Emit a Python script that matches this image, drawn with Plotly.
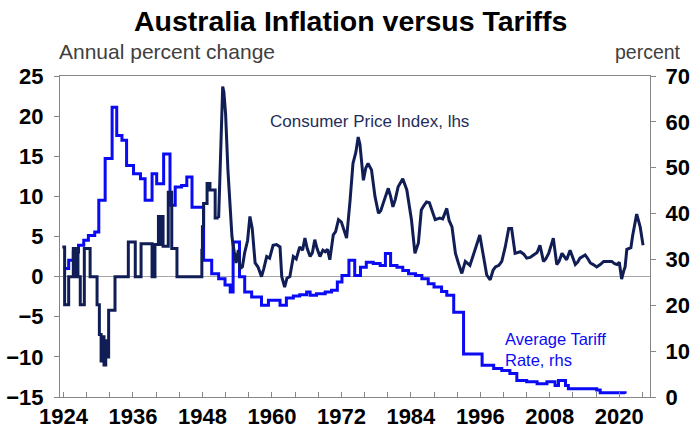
import plotly.graph_objects as go

# ---------------- data ----------------
# Average tariff rate, percent (rhs) – step changes (start year, value)
tariff_year = [1924.0, 1924.9, 1925.7, 1926.6, 1927.5, 1928.3, 1929.4, 1930.1, 1931.2, 1932.4,
               1933.2, 1934.1, 1934.9, 1936.1, 1937.3, 1938.1, 1939.3, 1940.1, 1941.3, 1942.4,
               1943.3, 1944.4, 1945.3, 1946.2, 1948.2, 1949.6, 1950.8, 1951.9, 1952.8, 1953.3,
               1954.4, 1955.3, 1956.5, 1958.2, 1959.4, 1961.4, 1962.5, 1963.7, 1964.8, 1966.0,
               1966.6, 1967.7, 1969.2, 1970.3, 1971.3, 1972.1, 1973.3, 1974.3, 1975.3, 1976.3,
               1977.5, 1978.7, 1979.6, 1980.5, 1981.6, 1982.6, 1983.6, 1984.8, 1985.9, 1987.0,
               1988.0, 1989.3, 1990.2, 1991.4, 1993.1, 1996.3, 1998.3, 1999.7, 2001.1, 2002.3,
               2004.0, 2005.8, 2007.5, 2008.9, 2009.5, 2010.7, 2011.2, 2016.1, 2016.7, 2021.0]
tariff_rate = [28.0, 29.8, 31.6, 33.1, 34.2, 35.2, 36.0, 42.9, 52.0, 63.2,
               57.0, 56.0, 50.5, 48.7, 47.6, 42.9, 48.7, 46.5, 53.0, 41.8,
               45.8, 46.1, 48.0, 41.4, 29.8, 26.9, 25.8, 24.4, 22.9, 33.8,
               26.2, 22.9, 21.8, 20.0, 21.1, 20.0, 21.6, 22.0, 22.3, 22.9,
               22.2, 22.5, 22.9, 23.3, 25.1, 26.5, 29.8, 26.5, 28.3, 29.4,
               29.1, 28.7, 31.3, 28.7, 28.3, 27.6, 26.9, 26.5, 25.8, 24.7,
               24.0, 23.0, 22.2, 18.5, 9.4, 6.9, 6.2, 5.8, 5.1, 3.6,
               3.3, 2.9, 3.3, 2.5, 3.6, 2.5, 1.8, 1.5, 0.9, 0.7]

# Consumer Price Index, annual percent change (lhs) – early annual steps
cpi_early_year = [1923.8, 1924.2, 1924.9, 1925.7, 1926.0, 1926.1, 1926.5, 1926.9, 1927.6, 1928.6,
                  1929.8, 1930.2, 1930.5, 1930.8, 1931.0, 1931.3, 1931.5, 1931.8, 1932.9, 1935.2,
                  1936.4, 1937.4, 1939.3, 1939.8, 1940.4, 1940.6, 1940.8, 1941.2, 1942.1, 1942.7,
                  1943.6, 1947.9, 1948.0, 1948.2, 1948.8, 1949.3, 1950.2, 1950.8]
cpi_early_value = [3.7, -3.5, 0.0, 3.5, 0.0, 3.5, 0.0, -3.5, 3.5, 0.0,
                   -3.5, -7.2, -10.5, -7.5, -11.0, -8.0, -10.0, -4.2, 0.0, 4.3,
                   0.0, 4.1, 0.0, 4.0, 7.5, 4.0, 7.5, 3.8, 10.5, 3.5,
                   0.0, 3.3, 6.2, 9.1, 11.6, 10.8, 7.3, 7.3]

# Consumer Price Index – later (quarterly-ish) readings
cpi_year = [1950.8, 1951.0, 1951.3, 1951.5, 1951.7, 1952.0, 1952.4, 1952.8, 1953.1, 1953.5,
            1953.8, 1954.2, 1954.5, 1954.9, 1955.3, 1955.8, 1956.2, 1956.6, 1957.1, 1957.6,
            1958.2, 1958.6, 1959.1, 1959.6, 1960.2, 1960.8, 1961.4, 1961.7, 1962.2, 1962.6,
            1963.1, 1963.7, 1964.2, 1964.8, 1965.3, 1965.7, 1966.1, 1966.6, 1967.0, 1967.4,
            1967.8, 1968.3, 1968.8, 1969.2, 1969.6, 1970.0, 1970.6, 1971.0, 1971.5, 1972.0,
            1972.6, 1972.9, 1973.5, 1974.0, 1974.5, 1974.9, 1975.2, 1975.5, 1975.8, 1976.2,
            1976.6, 1977.2, 1977.8, 1978.4, 1978.8, 1979.2, 1980.1, 1980.5, 1980.9, 1981.3,
            1981.8, 1982.6, 1983.3, 1984.1, 1984.7, 1985.3, 1985.8, 1986.2, 1986.7, 1987.2,
            1987.6, 1988.2, 1989.0, 1989.5, 1990.2, 1990.6, 1991.1, 1991.7, 1992.2, 1992.8,
            1993.4, 1994.2, 1994.7, 1995.1, 1995.6, 1995.9, 1996.5, 1997.1, 1997.7, 1998.2,
            1998.6, 1999.2, 1999.7, 2000.3, 2000.9, 2001.4, 2002.0, 2002.9, 2003.5, 2004.0,
            2004.6, 2005.2, 2005.8, 2006.3, 2006.9, 2007.3, 2007.8, 2008.6, 2009.2, 2009.6,
            2010.1, 2010.9, 2011.5, 2012.4, 2012.8, 2013.2, 2014.1, 2014.6, 2015.0, 2015.5,
            2016.1, 2016.7, 2017.3, 2018.0, 2018.7, 2019.2, 2019.6, 2020.0, 2020.4, 2020.8,
            2021.0, 2021.3, 2021.6, 2022.0, 2022.3, 2022.6, 2023.0, 2023.3, 2023.6, 2024.1]
cpi_value = [7.3, 12.5, 18.0, 23.7, 23.0, 20.3, 13.3, 8.0, 5.0, 3.0,
             1.7, 3.3, 1.0, 1.2, 3.0, 4.5, 7.5, 6.0, 1.7, 1.2,
             0.0, 1.0, 2.5, 2.3, 3.9, 4.0, 3.7, 0.0, -1.3, -0.2,
             0.0, 2.5, 2.2, 3.7, 3.3, 4.8, 3.5, 2.5, 3.0, 4.6,
             3.5, 2.5, 3.3, 3.1, 3.4, 2.1, 5.2, 5.6, 7.1, 6.8,
             5.4, 4.8, 9.5, 14.1, 15.5, 17.4, 16.5, 14.5, 12.0, 13.5,
             14.1, 13.3, 10.0, 7.9, 8.2, 9.1, 11.0, 10.0, 8.7, 9.6,
             11.2, 12.2, 10.8, 7.1, 2.9, 4.2, 8.3, 8.8, 9.3, 9.2,
             8.3, 7.1, 7.3, 7.2, 8.5, 7.0, 6.2, 2.9, 1.7, 0.4,
             1.9, 1.4, 2.5, 3.3, 4.5, 5.2, 2.5, 0.2, -0.4, 0.8,
             1.2, 1.4, 1.9, 3.7, 6.0, 6.0, 2.9, 3.1, 2.8, 2.3,
             2.4, 2.7, 3.0, 3.9, 1.9, 2.2, 2.9, 4.8, 1.5, 1.9,
             2.9, 2.1, 3.3, 1.5, 1.8, 2.3, 2.7, 2.2, 1.7, 1.5,
             1.2, 1.5, 1.9, 1.9, 1.9, 1.6, 1.5, 1.8, -0.3, 0.8,
             1.2, 3.4, 3.5, 3.6, 5.1, 6.1, 7.8, 7.0, 6.2, 3.9]

x_tick_years = list(range(1924, 2025, 4))
x_label_years = [1924, 1936, 1948, 1960, 1972, 1984, 1996, 2008, 2020]
lhs_ticks = [-15, -10, -5, 0, 5, 10, 15, 20, 25]
rhs_ticks = [0, 10, 20, 30, 40, 50, 60, 70]

# ---------------- styling ----------------
CPI_COLOR = "#111E55"
TARIFF_COLOR = "#0A0AF5"
AXIS_COLOR = "#868686"
FONT = "Liberation Sans, Arial, sans-serif"
tickfont = dict(family=FONT, size=22, color="black", weight="bold")

fig = go.Figure()

# Tariff (rhs) on primary y (drawn underneath)
fig.add_trace(go.Scatter(x=tariff_year, y=tariff_rate, mode="lines", line_shape="hv",
                         line=dict(color=TARIFF_COLOR, width=3), yaxis="y",
                         showlegend=False, hoverinfo="skip"))
# CPI (lhs) on overlay axis (drawn on top)
fig.add_trace(go.Scatter(x=cpi_early_year, y=cpi_early_value, mode="lines", line_shape="hv",
                         line=dict(color=CPI_COLOR, width=3), yaxis="y2",
                         showlegend=False, hoverinfo="skip"))
fig.add_trace(go.Scatter(x=cpi_year, y=cpi_value, mode="lines",
                         line=dict(color=CPI_COLOR, width=3), yaxis="y2",
                         showlegend=False, hoverinfo="skip"))

fig.update_layout(
    width=697, height=428,
    margin=dict(l=60, r=47, t=76, b=31),
    paper_bgcolor="white", plot_bgcolor="white",
    showlegend=False,
    xaxis=dict(range=[1923.4, 2025.3], tickmode="array", tickvals=x_tick_years,
               ticktext=[str(y) if y in x_label_years else "" for y in x_tick_years],
               ticks="inside", ticklen=5, tickcolor=AXIS_COLOR, tickwidth=1,
               showline=True, linecolor=AXIS_COLOR, linewidth=1, mirror=True,
               showgrid=False, zeroline=False, tickfont=tickfont, ticklabelstandoff=0,
               automargin=False),
    yaxis=dict(range=[0, 70], tickvals=rhs_ticks, side="right",
               ticks="outside", ticklen=5, tickcolor=AXIS_COLOR,
               showline=True, linecolor=AXIS_COLOR, linewidth=1,
               showgrid=False, zeroline=False, tickfont=tickfont, ticklabelstandoff=5,
               automargin=False),
    yaxis2=dict(range=[-15, 25], tickvals=lhs_ticks, side="left", overlaying="y",
                ticks="outside", ticklen=5, tickcolor=AXIS_COLOR,
                showline=True, linecolor=AXIS_COLOR, linewidth=1,
                showgrid=False, zeroline=True, zerolinecolor="#A6A6A6", zerolinewidth=1,
                tickfont=tickfont, ticklabelstandoff=6, automargin=False),
)

fig.add_annotation(text="Australia Inflation versus Tariffs", xref="paper", yref="paper",
                   x=0.4932, y=1.1713, xanchor="center", yanchor="middle", showarrow=False,
                   font=dict(family=FONT, size=28.5, color="black", weight="bold"))
fig.add_annotation(text="Annual percent change", xref="paper", yref="paper",
                   x=-0.005, y=1.0748, xanchor="left", yanchor="middle", showarrow=False,
                   font=dict(family=FONT, size=21, color="#404040"))
fig.add_annotation(text="percent", xref="paper", yref="paper",
                   x=1.056, y=1.0748, xanchor="right", yanchor="middle", showarrow=False,
                   font=dict(family=FONT, size=19.5, color="#404040"))
fig.add_annotation(text="Consumer Price Index, lhs", xref="paper", yref="paper",
                   x=0.3525, y=0.8567, xanchor="left", yanchor="middle", showarrow=False,
                   font=dict(family=FONT, size=17, color="#1F2D5A"))
fig.add_annotation(text="Average Tariff<br>Rate, rhs", xref="paper", yref="paper",
                   x=0.7508, y=0.1495, xanchor="left", yanchor="middle", showarrow=False,
                   align="left", font=dict(family=FONT, size=16.5, color=TARIFF_COLOR))

fig.write_html("out.html", config={"displayModeBar": False},
               post_script="document.body.style.margin='0';")
